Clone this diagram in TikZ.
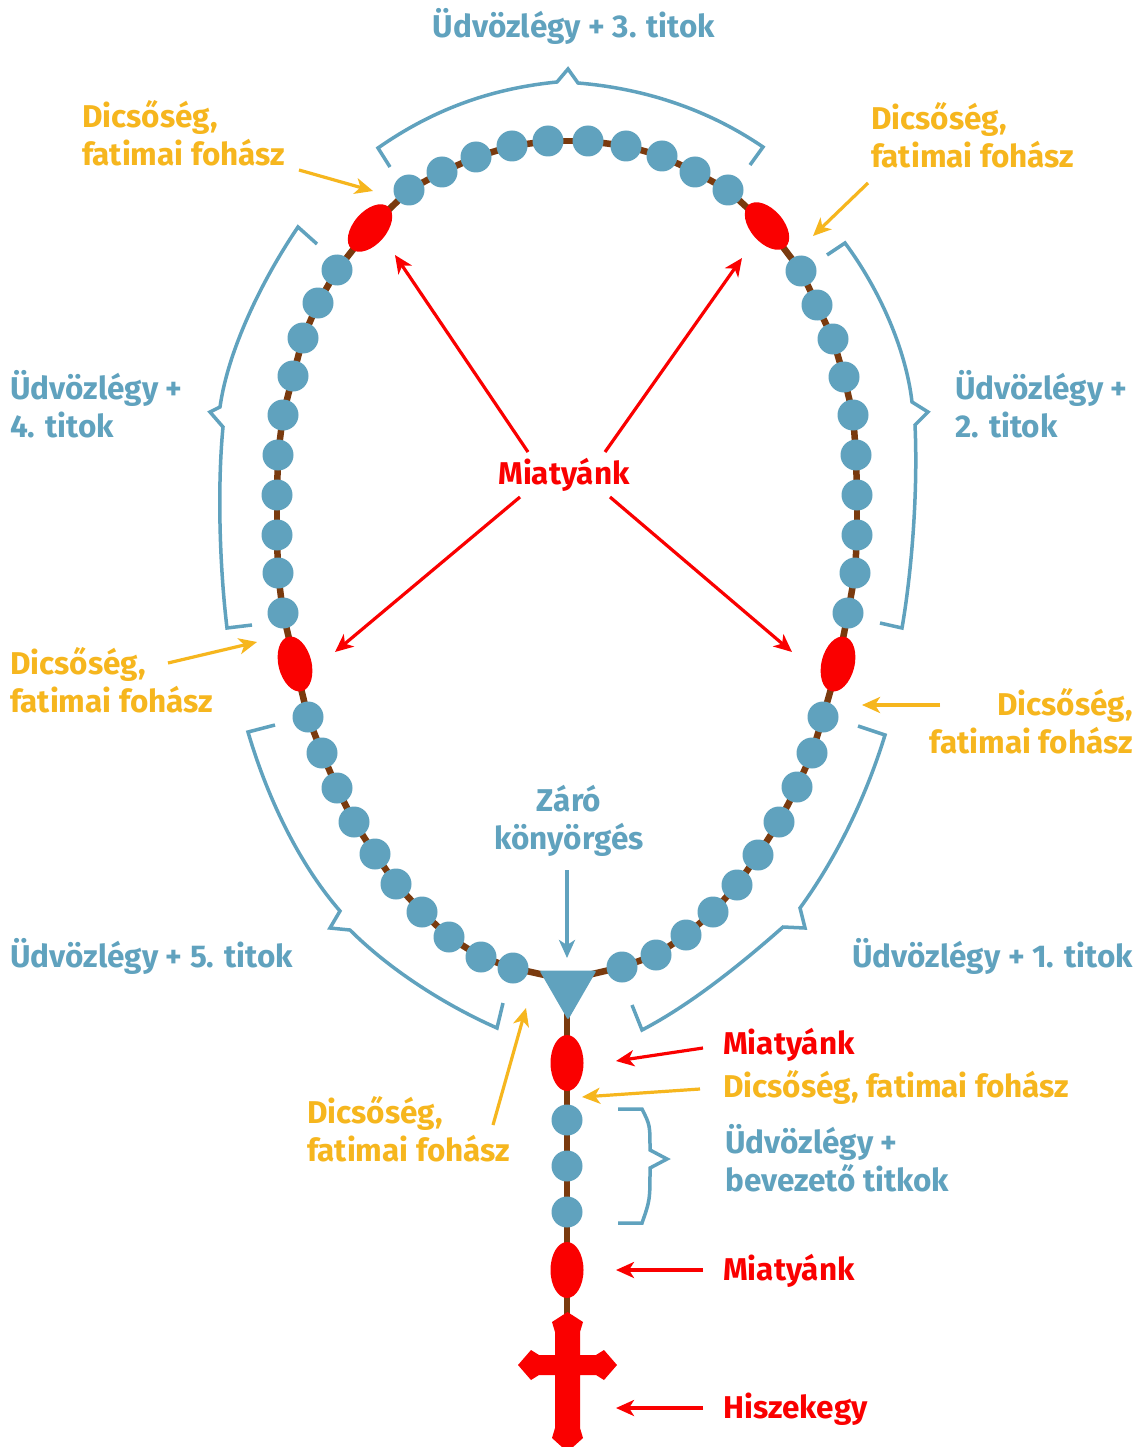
\documentclass[tikz,border=0pt]{standalone}
\usepackage{fontspec}
\setmainfont{Fira Sans}
\usetikzlibrary{arrows.meta,shapes.geometric}
\definecolor{rbblue}{RGB}{96,162,190}
\definecolor{rbred}{RGB}{250,0,0}
\definecolor{rbyel}{RGB}{246,182,30}
\definecolor{rbbrown}{RGB}{122,58,14}
\begin{document}
\begin{tikzpicture}[x=1pt,y=-1pt,
  bead/.style={circle,fill=rbblue,minimum size=31pt,inner sep=0pt},
  oval/.style={ellipse,fill=rbred,minimum width=56pt,minimum height=33pt,inner sep=0pt},
  chain/.style={draw=rbbrown,line width=6.5pt},
  brace/.style={draw=rbblue,line width=3.5pt,line join=miter},
  arr/.style={line width=3.2pt,-{Stealth[length=18pt,width=16pt,inset=5pt]}},
  lbl/.style={font=\bfseries\fontsize{31.5}{38}\selectfont,inner sep=0pt},
  ]
\fill[white] (0,0) rectangle (1143,1447);
\useasboundingbox (0,0) rectangle (1143,1447);

% loop points
\foreach \x/\y [count=\i] in {567/980, 513/968, 481/957, 449/937, 422/912, 396/884, 375/854, 354/822, 337/788, 322/753, 308/717, 295/664, 283/613, 278/573, 277/535, 277/495, 278/455, 283/415, 293/376, 303/338, 318/303, 337/270, 370/228, 409/190, 442/172, 476/157, 512/146, 548/141, 588/141, 626/146, 662/156, 695/172, 728/190, 767/226, 801/271, 817/305, 833/339, 844/377, 853/415, 856/455, 857/495, 857/535, 855/573, 848/613, 838/664, 823/717, 812/753, 797/787, 779/822, 758/855, 737/885, 713/912, 686/935, 656/955, 622/967} {\coordinate (p\i) at (\x,\y);}
\coordinate (pend) at (567,1330);

% chain
\foreach \i in {1,...,55} {\pgfmathtruncatemacro\j{mod(\i,55)+1}\draw[chain] (p\i) -- (p\j);}
\draw[chain] (p1) -- (pend);

% beads
\foreach \s in {1,12,23,34,45} {\foreach \k in {1,...,10} {\pgfmathtruncatemacro\i{\s+\k}\node[bead] (b\i) at (p\i) {};}}
\node[oval,rotate=-76] (o3) at (p12) {};
\node[oval,rotate=49] (o4) at (p23) {};
\node[oval,rotate=-49] (o1) at (p34) {};
\node[oval,rotate=76] (o2) at (p45) {};
\node[regular polygon,regular polygon sides=3,shape border rotate=180,minimum size=66pt,inner sep=0pt,fill=rbblue,rounded corners=2pt] (tri) at (568,987) {};

% pendant
\node[oval,rotate=90] (po1) at (567,1063) {};
\node[bead] (pb1) at (567,1120) {};
\node[bead] (pb2) at (567,1166) {};
\node[bead] (pb3) at (567,1212) {};
\node[oval,rotate=90] (po2) at (567,1270) {};
\fill[rbred] (555,1332) -- (552,1322) -- (567.5,1312) -- (583,1322) -- (580,1332) -- (580,1355) -- (596,1355) -- (604,1350) -- (617,1365) -- (604,1380) -- (596,1375) -- (580,1375) -- (580,1428) -- (583,1438) -- (567.5,1452) -- (552,1438) -- (555,1428) -- (555,1375) -- (539,1375) -- (531,1380) -- (518,1365) -- (531,1350) -- (539,1355) -- (555,1355) -- cycle;

% brackets
\draw[brace] (390,167) -- (378,148) .. controls (438,106) and (497,88) .. (557,82) -- (568,69) -- (578,83) .. controls (638,88) and (703,106) .. (763,147) -- (750,165);
\draw[brace] (317,244) -- (298,227) .. controls (262,280) and (228,350) .. (220,407) -- (210,412) -- (223,427) .. controls (217,490) and (220,570) .. (227,628) -- (252,625);
\draw[brace] (827,255) -- (845,243) .. controls (880,290) and (906,350) .. (912,402) -- (928,412) -- (915,425) .. controls (918,490) and (912,570) .. (902,628) -- (880,623);
\draw[brace] (275,725) -- (248,732) .. controls (268,800) and (300,865) .. (340,911) -- (330,928) -- (350,930) .. controls (390,970) and (445,1005) .. (497,1028) -- (503,1003);
\draw[brace] (858,726) -- (885,735) .. controls (865,800) and (835,860) .. (800,908) -- (805,928) -- (783,927) .. controls (740,965) and (690,1005) .. (642,1030) -- (632,1005);
\draw[brace] (618,1109) -- (642,1109) .. controls (650,1125) .. (650,1150) -- (667,1159) -- (650,1168) .. controls (650,1200) .. (642,1223) -- (618,1223);

% arrow end points
\coordinate (m1s) at (528,452); \coordinate (m1e) at (395,255);
\coordinate (m2s) at (605,452); \coordinate (m2e) at (742,258);
\coordinate (m3s) at (520,497); \coordinate (m3e) at (335,652);
\coordinate (m4s) at (610,497); \coordinate (m4e) at (792,652);
\coordinate (y1s) at (299,170); \coordinate (y1e) at (373,191);
\coordinate (y2s) at (868,183); \coordinate (y2e) at (813,236);
\coordinate (y3s) at (168,663); \coordinate (y3e) at (257,642);
\coordinate (y4s) at (940,705); \coordinate (y4e) at (862,705);
\coordinate (y5s) at (493,1125); \coordinate (y5e) at (526,1008);
\coordinate (y6s) at (700,1089); \coordinate (y6e) at (582,1097);
\coordinate (r1s) at (703,1048); \coordinate (r1e) at (616,1061);
\coordinate (r2s) at (703,1270); \coordinate (r2e) at (616,1270);
\coordinate (r3s) at (703,1408); \coordinate (r3e) at (616,1408);
\coordinate (zs) at (567,870); \coordinate (ze) at (567,958);

\foreach \a in {m1,m2,m3,m4,r1,r2,r3} {\draw[arr,draw=rbred,fill=rbred] (\a s) -- (\a e);}
\foreach \a in {y1,y2,y3,y4,y5,y6} {\draw[arr,draw=rbyel,fill=rbyel] (\a s) -- (\a e);}
\draw[arr,draw=rbblue,fill=rbblue] (zs) -- (ze);

% labels
\node[lbl,text=rbblue,anchor=base] (t3) at (574,38) {Üdvözlégy + 3. titok};
\node[lbl,text=rbyel,anchor=base west] (d4) at (82,128) {\begin{tabular}[t]{@{}l@{}}Dicsőség,\\fatimai fohász\end{tabular}};
\node[lbl,text=rbyel,anchor=base west] (d1) at (871,130) {\begin{tabular}[t]{@{}l@{}}Dicsőség,\\fatimai fohász\end{tabular}};
\node[lbl,text=rbblue,anchor=base west] (t4) at (10,399) {\begin{tabular}[t]{@{}l@{}}Üdvözlégy +\\4. titok\end{tabular}};
\node[lbl,text=rbblue,anchor=base west] (t2) at (955,399) {\begin{tabular}[t]{@{}l@{}}Üdvözlégy +\\2. titok\end{tabular}};
\node[lbl,text=rbred,anchor=base] (mc) at (564,484) {Miatyánk};
\node[lbl,text=rbyel,anchor=base west] (d3) at (10,674) {\begin{tabular}[t]{@{}l@{}}Dicsőség,\\fatimai fohász\end{tabular}};
\node[lbl,text=rbyel,anchor=base east] (d2) at (1133,715) {\begin{tabular}[t]{@{}r@{}}Dicsőség,\\fatimai fohász\end{tabular}};
\node[lbl,text=rbblue,anchor=base] (zk) at (569,811) {\begin{tabular}[t]{@{}c@{}}Záró\\könyörgés\end{tabular}};
\node[lbl,text=rbblue,anchor=base west] (t5) at (10,967) {Üdvözlégy + 5. titok};
\node[lbl,text=rbblue,anchor=base east] (t1) at (1133,967) {Üdvözlégy + 1. titok};
\node[lbl,text=rbred,anchor=base west] (mp1) at (723,1054) {Miatyánk};
\node[lbl,text=rbyel,anchor=base west] (dp) at (723,1097) {Dicsőség, fatimai fohász};
\node[lbl,text=rbblue,anchor=base west] (tb) at (725,1153) {\begin{tabular}[t]{@{}l@{}}Üdvözlégy +\\bevezető titkok\end{tabular}};
\node[lbl,text=rbyel,anchor=base west] (d5) at (307,1123) {\begin{tabular}[t]{@{}l@{}}Dicsőség,\\fatimai fohász\end{tabular}};
\node[lbl,text=rbred,anchor=base west] (mp2) at (723,1280) {Miatyánk};
\node[lbl,text=rbred,anchor=base west] (hk) at (723,1418) {Hiszekegy};
\end{tikzpicture}
\end{document}
